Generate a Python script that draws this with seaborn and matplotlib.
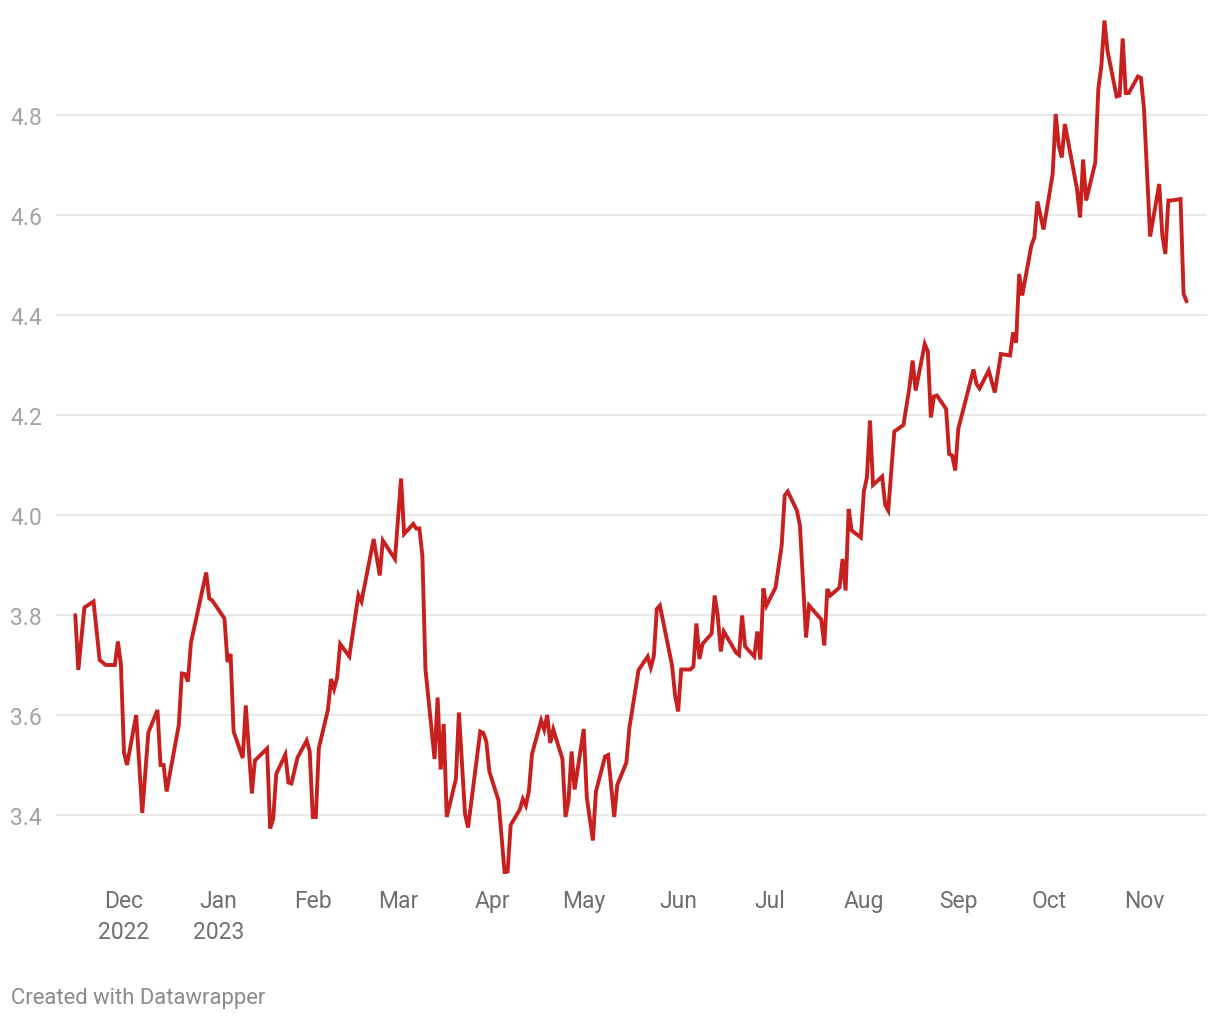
import matplotlib
matplotlib.use("Agg")
import matplotlib.pyplot as plt
import matplotlib.dates as mdates
import seaborn as sns
import pandas as pd

# ---- data ----
dates = [
    "2022-11-15", "2022-11-16", "2022-11-18", "2022-11-21", "2022-11-23", "2022-11-25",
    "2022-11-28", "2022-11-29", "2022-11-30", "2022-12-01", "2022-12-02", "2022-12-05",
    "2022-12-07", "2022-12-09", "2022-12-12", "2022-12-13", "2022-12-14", "2022-12-15",
    "2022-12-19", "2022-12-20", "2022-12-21", "2022-12-22", "2022-12-23", "2022-12-28",
    "2022-12-29", "2022-12-30", "2023-01-03", "2023-01-04", "2023-01-05", "2023-01-06",
    "2023-01-09", "2023-01-10", "2023-01-12", "2023-01-13", "2023-01-17", "2023-01-18",
    "2023-01-19", "2023-01-20", "2023-01-23", "2023-01-24", "2023-01-25", "2023-01-27",
    "2023-01-30", "2023-01-31", "2023-02-01", "2023-02-02", "2023-02-03", "2023-02-06",
    "2023-02-07", "2023-02-08", "2023-02-09", "2023-02-10", "2023-02-13", "2023-02-16",
    "2023-02-17", "2023-02-21", "2023-02-23", "2023-02-24", "2023-02-28", "2023-03-02",
    "2023-03-03", "2023-03-06", "2023-03-07", "2023-03-08", "2023-03-09", "2023-03-10",
    "2023-03-13", "2023-03-14", "2023-03-15", "2023-03-16", "2023-03-17", "2023-03-20",
    "2023-03-21", "2023-03-23", "2023-03-24", "2023-03-28", "2023-03-29", "2023-03-30",
    "2023-03-31", "2023-04-03", "2023-04-05", "2023-04-06", "2023-04-07", "2023-04-10",
    "2023-04-11", "2023-04-12", "2023-04-13", "2023-04-14", "2023-04-17", "2023-04-18",
    "2023-04-19", "2023-04-20", "2023-04-21", "2023-04-24", "2023-04-25", "2023-04-26",
    "2023-04-27", "2023-04-28", "2023-05-01", "2023-05-02", "2023-05-04", "2023-05-05",
    "2023-05-08", "2023-05-09", "2023-05-11", "2023-05-12", "2023-05-15", "2023-05-16",
    "2023-05-19", "2023-05-22", "2023-05-23", "2023-05-24", "2023-05-25", "2023-05-26",
    "2023-05-30", "2023-05-31", "2023-06-01", "2023-06-02", "2023-06-05", "2023-06-06",
    "2023-06-07", "2023-06-08", "2023-06-09", "2023-06-12", "2023-06-13", "2023-06-14",
    "2023-06-15", "2023-06-16", "2023-06-20", "2023-06-21", "2023-06-22", "2023-06-23",
    "2023-06-26", "2023-06-27", "2023-06-28", "2023-06-29", "2023-06-30", "2023-07-03",
    "2023-07-05", "2023-07-06", "2023-07-07", "2023-07-10", "2023-07-11", "2023-07-13",
    "2023-07-14", "2023-07-18", "2023-07-19", "2023-07-20", "2023-07-21", "2023-07-24",
    "2023-07-25", "2023-07-26", "2023-07-27", "2023-07-28", "2023-07-31", "2023-08-01",
    "2023-08-02", "2023-08-03", "2023-08-04", "2023-08-07", "2023-08-08", "2023-08-09",
    "2023-08-11", "2023-08-14", "2023-08-16", "2023-08-17", "2023-08-18", "2023-08-21",
    "2023-08-22", "2023-08-23", "2023-08-24", "2023-08-25", "2023-08-28", "2023-08-29",
    "2023-08-30", "2023-08-31", "2023-09-01", "2023-09-06", "2023-09-07", "2023-09-08",
    "2023-09-11", "2023-09-13", "2023-09-15", "2023-09-18", "2023-09-19", "2023-09-20",
    "2023-09-21", "2023-09-22", "2023-09-25", "2023-09-26", "2023-09-27", "2023-09-29",
    "2023-10-02", "2023-10-03", "2023-10-04", "2023-10-05", "2023-10-06", "2023-10-10",
    "2023-10-11", "2023-10-12", "2023-10-13", "2023-10-16", "2023-10-17", "2023-10-18",
    "2023-10-19", "2023-10-20", "2023-10-23", "2023-10-24", "2023-10-25", "2023-10-26",
    "2023-10-27", "2023-10-30", "2023-10-31", "2023-11-01", "2023-11-03", "2023-11-06",
    "2023-11-07", "2023-11-08", "2023-11-09", "2023-11-10", "2023-11-13", "2023-11-14",
    "2023-11-15",
]

yields = [
    3.800, 3.690, 3.815, 3.827, 3.710, 3.700,
    3.700, 3.747, 3.700, 3.525, 3.500, 3.600,
    3.404, 3.565, 3.610, 3.500, 3.500, 3.447,
    3.580, 3.683, 3.682, 3.667, 3.745, 3.885,
    3.833, 3.829, 3.793, 3.706, 3.722, 3.567,
    3.514, 3.619, 3.443, 3.509, 3.533, 3.373,
    3.392, 3.482, 3.521, 3.465, 3.463, 3.515,
    3.549, 3.527, 3.396, 3.396, 3.534, 3.611,
    3.672, 3.652, 3.675, 3.742, 3.717, 3.840,
    3.827, 3.952, 3.879, 3.949, 3.912, 4.073,
    3.962, 3.982, 3.973, 3.973, 3.919, 3.692,
    3.512, 3.635, 3.491, 3.582, 3.396, 3.472,
    3.605, 3.402, 3.375, 3.567, 3.564, 3.547,
    3.487, 3.429, 3.285, 3.287, 3.380, 3.411,
    3.432, 3.419, 3.449, 3.522, 3.589, 3.571,
    3.600, 3.544, 3.571, 3.512, 3.396, 3.429,
    3.527, 3.451, 3.572, 3.435, 3.349, 3.447,
    3.517, 3.520, 3.396, 3.460, 3.505, 3.575,
    3.690, 3.717, 3.695, 3.717, 3.812, 3.819,
    3.699, 3.639, 3.607, 3.691, 3.691, 3.697,
    3.783, 3.712, 3.742, 3.763, 3.839, 3.799,
    3.727, 3.767, 3.725, 3.720, 3.799, 3.737,
    3.717, 3.767, 3.711, 3.853, 3.819, 3.855,
    3.939, 4.039, 4.047, 4.009, 3.979, 3.755,
    3.819, 3.791, 3.739, 3.852, 3.839, 3.855,
    3.912, 3.849, 4.012, 3.969, 3.955, 4.047,
    4.075, 4.189, 4.060, 4.077, 4.020, 4.009,
    4.167, 4.180, 4.257, 4.309, 4.249, 4.342,
    4.327, 4.195, 4.237, 4.239, 4.212, 4.122,
    4.119, 4.089, 4.172, 4.291, 4.262, 4.253,
    4.289, 4.245, 4.322, 4.319, 4.365, 4.345,
    4.482, 4.439, 4.539, 4.555, 4.627, 4.571,
    4.682, 4.802, 4.739, 4.715, 4.782, 4.652,
    4.595, 4.711, 4.629, 4.705, 4.852, 4.899,
    4.989, 4.929, 4.837, 4.839, 4.953, 4.844,
    4.844, 4.877, 4.874, 4.812, 4.557, 4.662,
    4.560, 4.522, 4.629, 4.629, 4.632, 4.442,
    4.427,
]

month_ticks = ["2022-12-01", "2023-01-01", "2023-02-01", "2023-03-01", "2023-04-01",
               "2023-05-01", "2023-06-01", "2023-07-01", "2023-08-01", "2023-09-01",
               "2023-10-01", "2023-11-01"]
month_labels = ["Dec\n2022", "Jan\n2023", "Feb", "Mar", "Apr", "May", "Jun",
                "Jul", "Aug", "Sep", "Oct", "Nov"]
y_ticks = [3.4, 3.6, 3.8, 4.0, 4.2, 4.4, 4.6, 4.8]
y_labels = ["3.4", "3.6", "3.8", "4.0", "4.2", "4.4", "4.6", "4.8"]
footer = "Created with Datawrapper"

# ---- style ----
sns.set_theme(style="white")
plt.rcParams["font.family"] = ["Roboto", "DejaVu Sans"]

df = pd.DataFrame({"date": pd.to_datetime(dates), "value": yields})

W, H = 1220, 1020
fig = plt.figure(figsize=(W / 100, H / 100), dpi=100)
ax_left, ax_right, ax_top, ax_bottom = 56, 1207, 15, 875
ax = fig.add_axes([ax_left / W, 1 - ax_bottom / H,
                   (ax_right - ax_left) / W, (ax_bottom - ax_top) / H])

sns.lineplot(data=df, x="date", y="value", ax=ax, color="#c8201f",
             linewidth=2.8, solid_joinstyle="miter")

ax.set_ylim(3.282, 5.002)
x0 = mdates.date2num(pd.Timestamp("2022-12-01")) - 22.33
x1 = mdates.date2num(pd.Timestamp("2023-11-01")) + 20.69
ax.set_xlim(x0, x1)

ax.set_yticks(y_ticks)
ax.set_yticklabels(y_labels)
ax.set_xticks(mdates.date2num(pd.to_datetime(month_ticks)))
ax.set_xticklabels(month_labels, linespacing=1.45)

ax.grid(axis="y", color="#e3e3e3", linewidth=1.1)
ax.grid(axis="x", visible=False)
for s in ax.spines.values():
    s.set_visible(False)

ax.tick_params(axis="y", length=0, pad=33, labelsize=16.5, labelcolor="#a3a3a3")
for lbl in ax.get_yticklabels():
    lbl.set_horizontalalignment("left")
ax.tick_params(axis="x", length=0, pad=10.5, labelsize=16.5, labelcolor="#6f6f6f")

ax.set_xlabel("")
ax.set_ylabel("")

fig.text(11 / W, 1 - 999 / H, footer, fontsize=15.8, color="#8a8a8a",
         ha="left", va="center")

fig.savefig("out.png", dpi=100)
